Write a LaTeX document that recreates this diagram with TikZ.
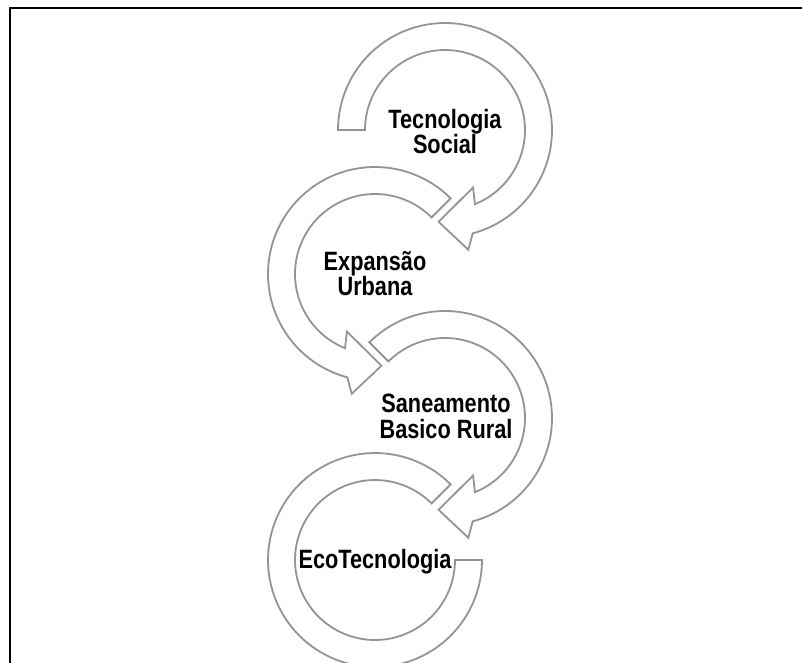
\documentclass[tikz,border=0pt]{standalone}
\usepackage{fontspec}
\newfontfamily\labelfont[FakeStretch=0.82]{Liberation Sans}
\definecolor{ringgray}{RGB}{148,148,148}
\tikzset{
  ring/.style={draw=ringgray, fill=white, line width=1.8pt, line join=miter},
  lbl/.style={font=\labelfont\bfseries\fontsize{26.5}{26.5}\selectfont, inner sep=0pt, anchor=base},
  frame/.style={draw=black, line width=2.2pt}
}
% Thick ring running clockwise from angle #1 and ending in an arrowhead
\newcommand{\headring}[1]{%
  plot[domain=#1:435, samples=90] ({107*cos(\x)},{107*sin(\x)})
  -- ({122*cos(79)},{122*sin(79)})
  -- ({92*cos(94)},{92*sin(94)})
  -- ({64*cos(64)},{64*sin(64)})
  -- ({80*cos(428)},{80*sin(428)})
  -- plot[domain=428:#1, samples=90] ({80*cos(\x)},{80*sin(\x)}) -- cycle}
% Thick ring with two flat ends
\newcommand{\flatring}[2]{%
  plot[domain=#1:#2, samples=90] ({107*cos(\x)},{107*sin(\x)})
  -- plot[domain=#2:#1, samples=90] ({80*cos(\x)},{80*sin(\x)}) -- cycle}
\begin{document}
\begin{tikzpicture}[x=1pt,y=-1pt]
\useasboundingbox (0,0) rectangle (802,662);
\clip (0,0) rectangle (802,662);
\draw[frame] (10,680) -- (10,8) -- (815,8);

\coordinate (c1) at (445,130);
\coordinate (c2) at (375,274);
\coordinate (c3) at (445,418);
\coordinate (c4) at (375,560);

\begin{scope}[shift={(c1)}]
  \path[ring] \headring{180};
\end{scope}
\begin{scope}[shift={(c2)}, xscale=-1]
  \path[ring] \headring{225};
\end{scope}
\begin{scope}[shift={(c3)}]
  \path[ring] \headring{225};
\end{scope}
\begin{scope}[shift={(c4)}, xscale=-1]
  \path[ring] \flatring{225}{540};
\end{scope}

\node[lbl] (t1a) at (445,128) {Tecnologia};
\node[lbl] (t1b) at (445,153) {Social};
\node[lbl] (t2a) at (375,270) {Expansão};
\node[lbl] (t2b) at (375,295) {Urbana};
\node[lbl] (t3a) at (446,412) {Saneamento};
\node[lbl] (t3b) at (446,438) {Basico Rural};
\node[lbl] (t4) at (375,568) {EcoTecnologia};
\end{tikzpicture}
\end{document}
